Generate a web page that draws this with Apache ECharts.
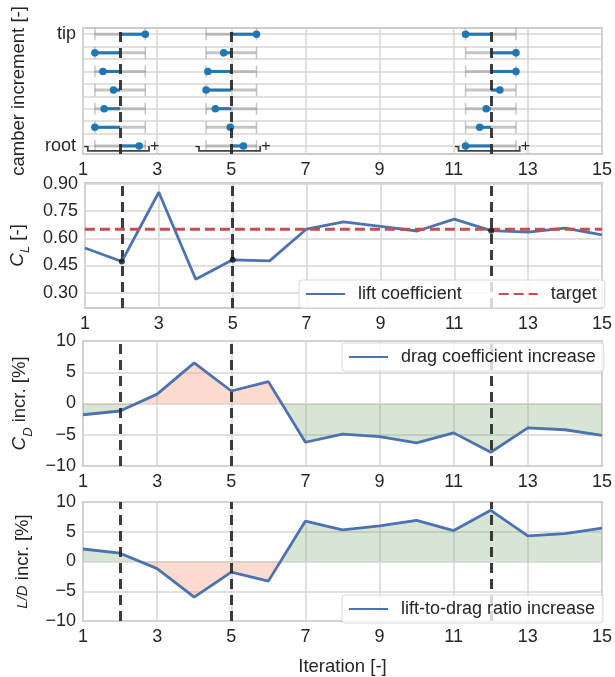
<!DOCTYPE html>
<html>
<head>
<meta charset="utf-8">
<script src="https://cdn.jsdelivr.net/npm/echarts@6/dist/echarts.min.js"></script>
<style>
  html, body { margin: 0; padding: 0; background: #fff; }
  #chart { width: 615px; height: 677px; }
</style>
</head>
<body>
<div id="chart"></div>
<script>
// iterations on the x axis
const iterations = [1, 2, 3, 4, 5, 6, 7, 8, 9, 10, 11, 12, 13, 14, 15];
// iterations picked out with the dashed lines
const selected = [2, 5, 12];

// camber increment per spanwise section, tip -> root, scaled to [-1, 1]
const sectionPos = [9, 7.5, 6, 4.5, 3, 1.5, 0];
const sectionGrid = [0, 1, 2, 3, 4, 5, 6, 7, 8, 9];
const camberIt2 = [1.0, -1.0, -0.68, -0.26, -0.63, -1.0, 0.76];
const camberIt5 = [1.0, -0.3, -0.93, -1.0, -0.63, -0.04, 0.48];
const camberIt12 = [-1.0, 1.0, 1.0, 0.36, -0.18, -0.44, -1.0];

// lift coefficient and target
const liftCoef = [0.546, 0.472, 0.854, 0.374, 0.481, 0.475, 0.651, 0.690, 0.666, 0.640, 0.706, 0.642, 0.634, 0.656, 0.619];
const liftTarget = 0.65;
const clTicks = [0.30, 0.45, 0.60, 0.75, 0.90];

// drag coefficient increase [%]
const dragIncr = [-1.8, -1.2, 1.5, 6.5, 2.0, 3.5, -6.2, -4.9, -5.3, -6.3, -4.7, -7.8, -3.9, -4.2, -5.1];
// lift-to-drag ratio increase [%]
const ldIncr = [2.1, 1.4, -1.2, -6.0, -1.8, -3.3, 6.8, 5.3, 6.0, 6.9, 5.2, 8.6, 4.3, 4.7, 5.6];

const FONT = '"Liberation Sans", Arial, sans-serif';
const TXT = '#262626';
const BLUE = '#4c72b0';
const RED = '#c44e52';
const DOT = '#1f77b4';
const GOOD = 'rgba(110,160,100,0.27)';
const BAD = 'rgba(248,160,130,0.38)';
const halfRange = 0.68;

let chart = echarts.init(document.getElementById('chart'));

// fill colour switching exactly at zero
function signFill(vals, above, below) {
  let hi = Math.max(0, ...vals), lo = Math.min(0, ...vals);
  let f = hi / (hi - lo);
  return new echarts.graphic.LinearGradient(0, 0, 0, 1, [
    { offset: 0, color: above }, { offset: f, color: above },
    { offset: f, color: below }, { offset: 1, color: below }
  ]);
}

function xy(vals) {
  return iterations.map((x, i) => [x, vals[i]]);
}

// one custom item per (iteration, section)
let camberData = [];
[[2, camberIt2], [5, camberIt5], [12, camberIt12]].forEach(([it, vals]) => {
  vals.forEach((v, i) => camberData.push([it, sectionPos[i], v]));
});

function renderCamber(params, api) {
  let it = api.value(0), ry = api.value(1), v = api.value(2);
  let l = api.coord([it - halfRange, ry]);
  let r = api.coord([it + halfRange, ry]);
  let m = api.coord([it, ry]);
  let t = api.coord([it + v * halfRange, ry]);
  let grey = 'rgba(150,150,150,0.55)';
  let kids = [
    { type: 'line', shape: { x1: l[0], y1: l[1], x2: r[0], y2: r[1] }, style: { stroke: grey, lineWidth: 3 } },
    { type: 'line', shape: { x1: l[0], y1: l[1] - 6, x2: l[0], y2: l[1] + 6 }, style: { stroke: grey, lineWidth: 1.5 } },
    { type: 'line', shape: { x1: r[0], y1: r[1] - 6, x2: r[0], y2: r[1] + 6 }, style: { stroke: grey, lineWidth: 1.5 } },
    { type: 'line', shape: { x1: m[0], y1: m[1], x2: t[0], y2: t[1] }, style: { stroke: DOT, lineWidth: 3 }, z2: 5 },
    { type: 'circle', shape: { cx: t[0], cy: t[1], r: 3.8 }, style: { fill: DOT }, z2: 6 }
  ];
  if (ry === 0) {
    let a = api.coord([it - 0.87, 0]);
    let b = api.coord([it + 0.78, 0]);
    let yb = a[1] + 5;
    kids.push({ type: 'polyline', shape: { points: [[a[0], a[1]], [a[0], yb], [b[0], yb], [b[0], b[1]]] },
      style: { stroke: '#444', lineWidth: 1.8, fill: null }, z2: 7 });
    kids.push({ type: 'text', x: a[0] + 1, y: a[1] + 1, style: { text: '-', font: '16px ' + FONT, fill: TXT, align: 'right', verticalAlign: 'middle' } });
    kids.push({ type: 'text', x: b[0] + 1, y: b[1] + 1, style: { text: '+', font: '16px ' + FONT, fill: TXT, align: 'left', verticalAlign: 'middle' } });
  }
  return { type: 'group', children: kids };
}

const grids = [
  { left: 83, top: 28, width: 520, height: 126 },
  { left: 83, top: 183, width: 520, height: 125 },
  { left: 83, top: 341, width: 520, height: 125 },
  { left: 83, top: 502, width: 520, height: 125 }
].map(g => Object.assign({ show: true, borderColor: '#cccccc', borderWidth: 2, backgroundColor: '#fff' }, g));

const splitLine = { show: true, lineStyle: { color: '#d6d6d6', width: 1.5 } };
const tickFont = { fontSize: 18, color: TXT, fontFamily: FONT, margin: 7 };

const xAxes = grids.map((g, i) => ({
  type: 'value', gridIndex: i, min: 1, max: 15, interval: 2,
  axisLine: { show: false }, axisTick: { show: false },
  axisLabel: tickFont,
  splitLine: splitLine,
  name: i === 3 ? 'Iteration [-]' : '', nameLocation: 'middle', nameGap: 36,
  nameTextStyle: { fontSize: 18.5, color: TXT, fontFamily: FONT }
}));

const nameStyle = {
  fontSize: 18.5, color: TXT, fontFamily: FONT,
  rich: {
    c: { fontSize: 19, fontStyle: 'italic', color: TXT, fontFamily: FONT },
    s: { fontSize: 13, fontStyle: 'italic', color: TXT, fontFamily: FONT, verticalAlign: 'bottom', padding: [0, 0, -5, 0] },
    f: { fontSize: 15, fontStyle: 'italic', color: TXT, fontFamily: FONT }
  }
};

function minusFmt(v) {
  return v < 0 ? '\u2212' + (-v) : String(v);
}

const yAxes = [
  {
    type: 'value', gridIndex: 0, min: -0.65, max: 9.5,
    axisLine: { show: false },
    axisTick: { show: false, customValues: sectionGrid },
    axisLabel: Object.assign({ customValues: [0, 9], formatter: v => v === 9 ? 'tip' : (v === 0 ? 'root' : '') }, tickFont),
    splitLine: splitLine,
    name: 'camber increment [-]', nameLocation: 'middle', nameGap: 55, nameTextStyle: nameStyle
  },
  {
    type: 'value', gridIndex: 1, min: 0.215, max: 0.905,
    axisLine: { show: false },
    axisTick: { show: false, customValues: clTicks },
    axisLabel: Object.assign({ customValues: clTicks, formatter: v => v.toFixed(2) }, tickFont),
    splitLine: splitLine,
    name: '{c|C}{s|L} [-]', nameLocation: 'middle', nameGap: 55, nameTextStyle: nameStyle
  },
  {
    type: 'value', gridIndex: 2, min: -10, max: 10, interval: 5,
    axisLine: { show: false }, axisTick: { show: false },
    axisLabel: Object.assign({ formatter: minusFmt }, tickFont),
    splitLine: splitLine,
    name: '{c|C}{s|D} incr. [%]', nameLocation: 'middle', nameGap: 51, nameTextStyle: nameStyle
  },
  {
    type: 'value', gridIndex: 3, min: -10, max: 10, interval: 5,
    axisLine: { show: false }, axisTick: { show: false },
    axisLabel: Object.assign({ formatter: minusFmt }, tickFont),
    splitLine: splitLine,
    name: '{f|L/D} incr. [%]', nameLocation: 'middle', nameGap: 51, nameTextStyle: nameStyle
  }
];

// dashed markers at the selected iterations, one carrier series per panel
const markers = grids.map((g, i) => ({
  type: 'line', xAxisIndex: i, yAxisIndex: i, data: [], silent: true, z: 2,
  markLine: {
    symbol: 'none', silent: true, label: { show: false },
    lineStyle: { color: 'rgba(40,40,40,0.9)', width: 3, type: [10, 6] },
    data: selected.map(x => ({ xAxis: x }))
  }
}));

const legendBase = {
  z: 10,
  backgroundColor: 'rgba(255,255,255,0.8)', borderColor: '#d9d9d9', borderWidth: 1, borderRadius: 3,
  padding: [5, 8, 5, 6], itemWidth: 39, itemHeight: 12, itemGap: 36,
  itemStyle: { opacity: 0 },
  textStyle: { fontSize: 18, color: TXT, fontFamily: FONT, padding: [0, 0, 0, 8] }
};

const option = {
  animation: false,
  backgroundColor: '#fff',
  grid: grids,
  xAxis: xAxes,
  yAxis: yAxes,
  legend: [
    Object.assign({}, legendBase, { data: ['lift coefficient', 'target'], left: 299, top: 280 }),
    Object.assign({}, legendBase, { data: ['drag coefficient increase'], left: 342, top: 343 }),
    Object.assign({}, legendBase, { data: ['lift-to-drag ratio increase'], left: 342, top: 595 })
  ],
  series: [
    ...markers,
    {
      type: 'custom', xAxisIndex: 0, yAxisIndex: 0, renderItem: renderCamber, data: camberData, z: 3
    },
    {
      name: 'lift coefficient', type: 'line', xAxisIndex: 1, yAxisIndex: 1, data: xy(liftCoef),
      symbol: 'none', lineStyle: { color: BLUE, width: 2.8 }, itemStyle: { color: BLUE }, z: 5
    },
    {
      name: 'target', type: 'line', xAxisIndex: 1, yAxisIndex: 1, data: [[1, liftTarget], [15, liftTarget]],
      symbol: 'none', lineStyle: { color: RED, width: 3, type: [10, 5] }, itemStyle: { color: RED }, z: 5
    },
    {
      type: 'scatter', xAxisIndex: 1, yAxisIndex: 1, data: selected.map(x => [x, liftCoef[x - 1]]),
      symbolSize: 6, itemStyle: { color: '#111' }, z: 6
    },
    {
      name: 'drag coefficient increase', type: 'line', xAxisIndex: 2, yAxisIndex: 2, data: xy(dragIncr),
      symbol: 'none', lineStyle: { color: BLUE, width: 2.8 }, itemStyle: { color: BLUE },
      areaStyle: { color: signFill(dragIncr, BAD, GOOD), opacity: 1 }, z: 3
    },
    {
      name: 'lift-to-drag ratio increase', type: 'line', xAxisIndex: 3, yAxisIndex: 3, data: xy(ldIncr),
      symbol: 'none', lineStyle: { color: BLUE, width: 2.8 }, itemStyle: { color: BLUE },
      areaStyle: { color: signFill(ldIncr, GOOD, BAD), opacity: 1 }, z: 3
    }
  ]
};

chart.setOption(option);
</script>
</body>
</html>
